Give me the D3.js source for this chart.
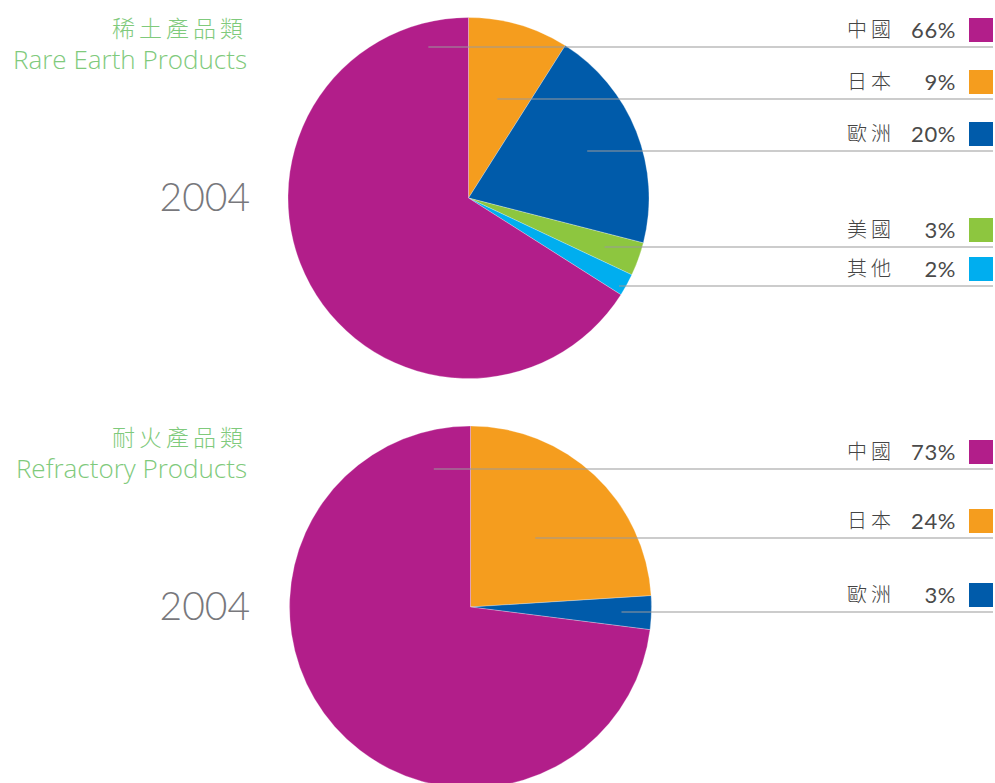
<!DOCTYPE html>
<html>
<head>
<meta charset="utf-8">
<script src="https://cdn.jsdelivr.net/npm/d3@7"></script>
<style>
  html, body { margin: 0; padding: 0; background: #fff; }
  svg { display: block; }
  .title { fill: #7fca7c; font-family: "Open Sans", "Noto Sans CJK TC", sans-serif; font-weight: 300; }
  .year { fill: #78787c; font-family: "Lato", sans-serif; font-weight: 300; font-size: 39px; }
  .lbl { fill: #444; font-family: "Noto Sans CJK TC", sans-serif; font-weight: 300; font-size: 20px; letter-spacing: 4px; }
  .pct { fill: #4a4a4a; font-family: "Lato", sans-serif; font-weight: 400; font-size: 22px; letter-spacing: 0.6px; }
  .leader { stroke: #9a9a9a; stroke-width: 1.2; fill: none; }
</style>
</head>
<body>
<svg id="chart"></svg>
<script>
// data
const regions = ['中國', '日本', '歐洲', '美國', '其他'];
const rareEarthShare = [66, 9, 20, 3, 2];
const refractoryShare = [73, 24, 3];
const colors = ['#b21e8a', '#f59d1e', '#005baa', '#8dc63f', '#00aeef'];

// layout for each panel
const W = 995, H = 783;
const panels = [
  { zh: '稀土產品類', en: 'Rare Earth Products', year: '2004', values: rareEarthShare,
    cx: 468.5, cy: 198, r: 180.5, titleY: 37, rows: [47, 99, 151, 247, 286] },
  { zh: '耐火產品類', en: 'Refractory Products', year: '2004', values: refractoryShare,
    cx: 470.5, cy: 607, r: 181, titleY: 446, rows: [469, 538, 612] }
];

const svg = d3.select('#chart').attr('width', W).attr('height', H);

panels.forEach(p => {
  const items = p.values.map((v, i) => ({ name: regions[i], value: v, color: colors[i], idx: i }));
  // slices run clockwise from 12 o'clock, China (first) drawn last
  const ordered = items.slice(1).concat(items.slice(0, 1));
  const pie = d3.pie().sort(null).value(d => d.value);
  const arcs = pie(ordered);
  const arc = d3.arc().innerRadius(0).outerRadius(p.r);

  const g = svg.append('g').attr('transform', `translate(${p.cx},${p.cy})`);
  g.selectAll('path').data(arcs).enter().append('path')
    .attr('d', arc)
    .attr('fill', d => d.data.color)
    .attr('stroke', 'rgba(255,255,255,0.45)')
    .attr('stroke-width', 0.6);

  // leader lines: from the slice's mid-angle ray to the right edge at the row height
  arcs.forEach(a => {
    const y = p.rows[a.data.idx];
    const isChina = a.data.idx === 0;
    const ang = isChina ? -0.26 : (a.startAngle + a.endAngle) / 2;
    let x = p.cx + (p.cy - y) * Math.tan(ang);
    if (!isChina) {
      if (x < p.cx) x = p.cx + p.r * 0.85;
      x = Math.min(x, p.cx + p.r - 30);
    }
    svg.append('line').attr('class', 'leader')
      .attr('x1', x).attr('x2', W - 2)
      .attr('y1', y).attr('y2', y);
  });

  // legend rows
  items.forEach(d => {
    const y = p.rows[d.idx];
    svg.append('rect').attr('x', 969).attr('y', y - 29).attr('width', 24).attr('height', 24).attr('fill', d.color);
    svg.append('text').attr('class', 'lbl').attr('x', 847).attr('y', y - 10).text(d.name);
    svg.append('text').attr('class', 'pct').attr('x', 956).attr('y', y - 9).attr('text-anchor', 'end').text(d.value + '%');
  });

  // titles
  svg.append('text').attr('class', 'title').attr('x', 247).attr('y', p.titleY)
    .attr('text-anchor', 'end').style('font-size', '23px').style('letter-spacing', '4px')
    .style('font-family', '"Noto Sans CJK TC", sans-serif').text(p.zh);
  svg.append('text').attr('class', 'title').attr('x', 247).attr('y', p.titleY + 32)
    .attr('text-anchor', 'end').style('font-size', '26px').text(p.en);
  svg.append('text').attr('class', 'year').attr('x', 250).attr('y', p.cy + 13)
    .attr('text-anchor', 'end').text(p.year);
});
</script>
</body>
</html>
